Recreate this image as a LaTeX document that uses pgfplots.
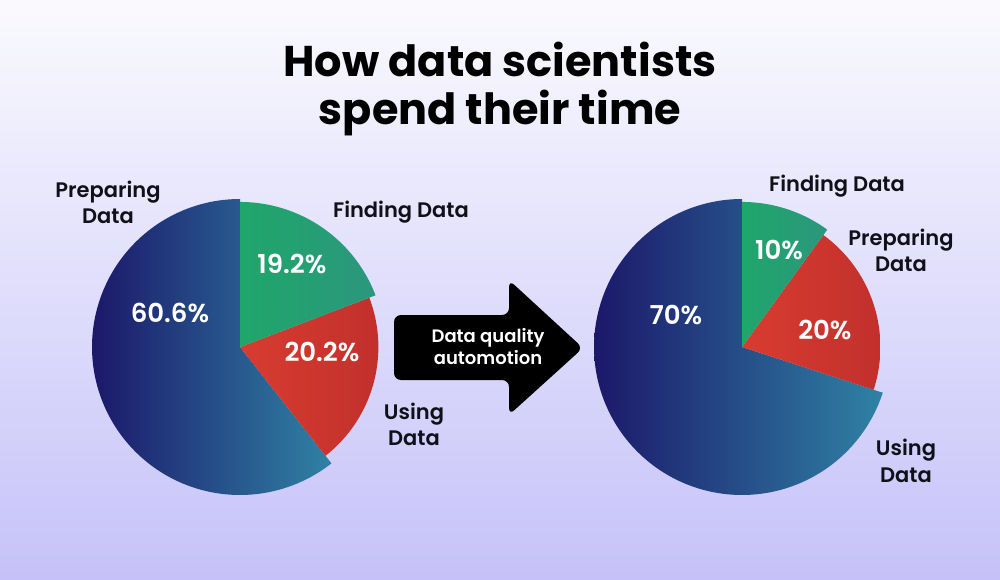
\documentclass[border=0pt]{standalone}
\usepackage{pgfplots}
\pgfplotsset{compat=1.18}
\usepackage{pgfplotstable}
\usepackage{fontspec}
\setmainfont{Poppins}
\newfontfamily\semibold{Poppins SemiBold}

\definecolor{bgtop}{HTML}{FAFAFE}
\definecolor{bgbot}{HTML}{C6C2F9}
\definecolor{blueL}{HTML}{1C186A}
\definecolor{blueR}{HTML}{2F82A5}
\definecolor{greenL}{HTML}{1FA66A}
\definecolor{greenR}{HTML}{2B977D}
\definecolor{redL}{HTML}{D83C30}
\definecolor{redR}{HTML}{C2302C}
\definecolor{ink}{HTML}{101018}

% shares (percent) and relative radius of each slice, clockwise from 12 o'clock
\pgfplotstableread{
share radius
19.2 0.980
20.2 0.935
60.6 1.000
}\beforetable
\pgfplotstableread{
share radius
10 0.980
20 0.935
70 1.000
}\aftertable

% slice boundaries (degrees) and radii read from a table
\newcommand{\pieangles}[1]{%
  \pgfplotstablegetelem{0}{share}\of#1\pgfmathsetmacro\sA{\pgfplotsretval}%
  \pgfplotstablegetelem{1}{share}\of#1\pgfmathsetmacro\sB{\pgfplotsretval}%
  \pgfplotstablegetelem{0}{radius}\of#1\pgfmathsetmacro\rA{\pgfplotsretval}%
  \pgfplotstablegetelem{1}{radius}\of#1\pgfmathsetmacro\rB{\pgfplotsretval}%
  \pgfplotstablegetelem{2}{radius}\of#1\pgfmathsetmacro\rC{\pgfplotsretval}%
  \pgfmathsetmacro\angA{90-3.6*\sA}%
  \pgfmathsetmacro\angB{90-3.6*(\sA+\sB)}%
}

% start angle, end angle, radius, left colour, right colour
\newcommand{\pieslice}[5]{%
  \addplot[draw=none, left color=#4, right color=#5,
    domain=#1:#2, samples=160, variable=\t]
    ({#3*cos(\t)}, {#3*sin(\t)}) -- (axis cs:0,0) -- cycle;
}

\pgfplotsset{
  pieaxis/.style={
    anchor=origin, hide axis, clip=false, scale only axis,
    x=148pt, y=148pt,
    xmin=-1.1, xmax=1.1, ymin=-1.1, ymax=1.1,
  },
}

\begin{document}
\begin{tikzpicture}[x=1pt, y=1pt]
  \useasboundingbox (0,0) rectangle (1000,579);
  \shade[top color=bgtop, bottom color=bgbot] (0,0) rectangle (1000,579);

  % title
  \node[anchor=base, text=black, font=\bfseries\fontsize{43}{50}\selectfont]
    at (500,502) {How data scientists};
  \node[anchor=base, text=black, font=\bfseries\fontsize{43}{50}\selectfont]
    at (500,454) {spend their time};

  % before automation
  \pieangles{\beforetable}
  \begin{axis}[pieaxis, at={(240pt,232pt)}]
    \pieslice{-270}{\angB}{\rC}{blueL}{blueR}
    \pieslice{\angB}{\angA}{\rB}{redL}{redR}
    \pieslice{\angA}{90}{\rA}{greenL}{greenR}
    \node[text=white, font=\semibold\fontsize{26}{30}\selectfont]
      at (axis cs:-0.473,0.23) {60.6\%};
    \node[text=white, font=\semibold\fontsize{26}{30}\selectfont]
      at (axis cs:0.351,0.561) {19.2\%};
    \node[text=white, font=\semibold\fontsize{26}{30}\selectfont]
      at (axis cs:0.554,-0.034) {20.2\%};
  \end{axis}

  % after automation
  \pieangles{\aftertable}
  \begin{axis}[pieaxis, at={(742pt,232pt)}]
    \pieslice{-270}{\angB}{\rC}{blueL}{blueR}
    \pieslice{\angB}{\angA}{\rB}{redL}{redR}
    \pieslice{\angA}{90}{\rA}{greenL}{greenR}
    \node[text=white, font=\semibold\fontsize{26}{30}\selectfont]
      at (axis cs:-0.446,0.216) {70\%};
    \node[text=white, font=\semibold\fontsize{26}{30}\selectfont]
      at (axis cs:0.25,0.655) {10\%};
    \node[text=white, font=\semibold\fontsize{26}{30}\selectfont]
      at (axis cs:0.56,0.115) {20\%};
  \end{axis}

  % slice names
  \begin{scope}[every node/.style={text=ink, font=\semibold\fontsize{21}{25}\selectfont}]
    \node at (108,387) {Preparing};
    \node at (108,363) {Data};
    \node at (401,367) {Finding Data};
    \node at (414,165) {Using};
    \node at (414,141) {Data};
    \node at (837,393) {Finding Data};
    \node at (901,339) {Preparing};
    \node at (901,315) {Data};
    \node at (906,129) {Using};
    \node at (906,104) {Data};
  \end{scope}

  % arrow between the two pies
  \fill[black, rounded corners=7pt]
    (394,264) -- (509,264) -- (509,299) -- (583,231) -- (509,164)
    -- (509,199) -- (394,199) -- cycle;
  \node[text=white, font=\semibold\fontsize{18}{21}\selectfont]
    at (488,241) {Data quality};
  \node[text=white, font=\semibold\fontsize{18}{21}\selectfont]
    at (488,221) {automotion};
\end{tikzpicture}
\end{document}
